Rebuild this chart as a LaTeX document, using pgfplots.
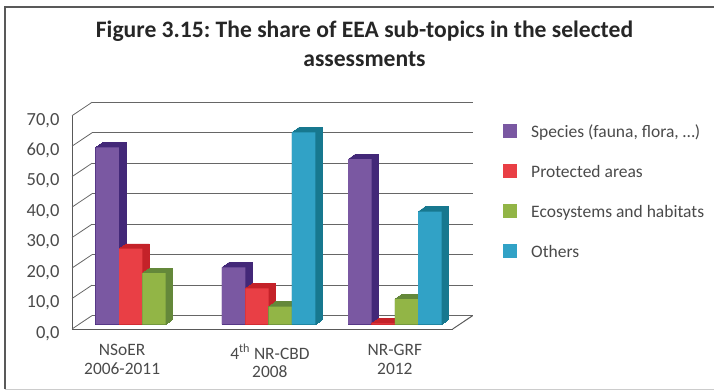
\documentclass[border=0pt]{standalone}
\usepackage{pgfplots}
\pgfplotsset{compat=1.18}
\usepackage{fontspec}
\setmainfont{Carlito}
\definecolor{txt}{HTML}{4A4A4A}
\definecolor{cP}{HTML}{7A58A2}\definecolor{dP}{HTML}{432878}
\definecolor{cR}{HTML}{E93F45}\definecolor{dR}{HTML}{C42229}
\definecolor{cG}{HTML}{92B546}\definecolor{dG}{HTML}{64883A}
\definecolor{cT}{HTML}{31A2C6}\definecolor{dT}{HTML}{17788F}
\pgfplotstableread{
g P R G T
1 58.1 24.8 16.8 nan
2 18.7 11.8 5.8 63.0
3 54.2 0.3 8.3 37.0
}\datatab
\begin{document}
\frenchspacing
\begin{tikzpicture}
\useasboundingbox (-72pt,-62pt) rectangle (642pt,329pt);
\draw[line width=1.6pt,color=black!65] (-67pt,-60pt) -- (-67pt,322pt) -- (642pt,322pt);
\draw[line width=1pt,color=black!20] (-67pt,-60pt) -- (642pt,-60pt);
\node[font=\fontsize{23.6}{29}\selectfont\bfseries,text=black!85,align=center,anchor=center] at (292.5pt,285.5pt) {Figure 3.15: The share of EEA sub-topics in the selected\\assessments};
\begin{axis}[
  scale only axis, width=380.7pt, height=213.3pt,
  xmin=0.443, xmax=3.458, ymin=0, ymax=70,
  clip=false,
  axis x line*=bottom, axis y line*=left,
  axis line style={draw=black!65,line width=1pt,-},
  ytick={0,10,...,70},
  xtick={0.84,2.01,3.0},
  xticklabels={NSoER\\2006-2011,4\textsuperscript{th} NR-CBD\\2008,NR-GRF\\2012},
  xticklabel style={align=center,font=\fontsize{17.4}{18.5}\selectfont,text=txt,yshift=-12pt},
  yticklabel style={font=\fontsize{18.5}{18}\selectfont,text=txt,xshift=-9pt,yshift=-4.5pt},
  /pgf/number format/assume math mode=true,
  /pgf/number format/.cd,fixed,fixed zerofill,precision=1,use comma,/pgfplots/.cd,
  major tick length=0pt,
  ymajorgrids,
  grid style={draw=black!60,line width=0.8pt,xshift=20pt,yshift=13.4pt},
  legend style={draw=none,fill=none,at={(axis cs:0.443,70)},anchor=north west,xshift=431pt,yshift=-8pt,
    font=\fontsize{17.5}{18}\selectfont,text=txt,row sep=20pt,
    nodes={text height=12pt,text depth=4pt},
    legend cell align=left,inner sep=0pt,/tikz/every odd column/.append style={column sep=12pt}},
  ybar, bar width=23.3pt,
  legend image code/.code={\fill[#1,draw=none] (0pt,-9pt) rectangle (14pt,5pt);},
]
\pgfplotsinvokeforeach{0,10,20,30,40,50,60,70}{
  \draw[draw=black!60,line width=0.8pt] (axis cs:0.443,#1) -- ++(20pt,13.4pt);
}
\draw[draw=black!65,line width=1pt] (axis cs:3.458,0) -- ++(20pt,13.4pt);
% extruded depth of the bars
\pgfplotsinvokeforeach{5.0,5.5,6.0,6.5,7.0,7.5,8.0,8.5,9.0,9.5,10.0,10.5,11.0,11.5,12.0}{
  \addplot[forget plot,fill=dP,draw=dP,bar shift=-35pt,xshift=#1pt-5pt,yshift=4.7pt+(#1pt-5pt)*0.71] table[x=g,y=P]{\datatab};
}
\addplot[fill=cP,draw=none,bar shift=-35pt,yshift=4.7pt] table[x=g,y=P]{\datatab};
\pgfplotsinvokeforeach{5.0,5.5,6.0,6.5,7.0,7.5,8.0,8.5,9.0,9.5,10.0,10.5,11.0,11.5,12.0}{
  \addplot[forget plot,fill=dR,draw=dR,bar shift=-11.67pt,xshift=#1pt-5pt,yshift=4.7pt+(#1pt-5pt)*0.71] table[x=g,y=R]{\datatab};
}
\addplot[fill=cR,draw=none,bar shift=-11.67pt,yshift=4.7pt] table[x=g,y=R]{\datatab};
\pgfplotsinvokeforeach{5.0,5.5,6.0,6.5,7.0,7.5,8.0,8.5,9.0,9.5,10.0,10.5,11.0,11.5,12.0}{
  \addplot[forget plot,fill=dG,draw=dG,bar shift=11.67pt,xshift=#1pt-5pt,yshift=4.7pt+(#1pt-5pt)*0.71] table[x=g,y=G]{\datatab};
}
\addplot[fill=cG,draw=none,bar shift=11.67pt,yshift=4.7pt] table[x=g,y=G]{\datatab};
\pgfplotsinvokeforeach{5.0,5.5,6.0,6.5,7.0,7.5,8.0,8.5,9.0,9.5,10.0,10.5,11.0,11.5,12.0}{
  \addplot[forget plot,fill=dT,draw=dT,bar shift=35pt,xshift=#1pt-5pt,yshift=4.7pt+(#1pt-5pt)*0.71] table[x=g,y=T]{\datatab};
}
\addplot[fill=cT,draw=none,bar shift=35pt,yshift=4.7pt] table[x=g,y=T]{\datatab};
\legend{Species (fauna{,} flora{,} …),Protected areas,Ecosystems and habitats,Others}
\end{axis}
\end{tikzpicture}
\end{document}
